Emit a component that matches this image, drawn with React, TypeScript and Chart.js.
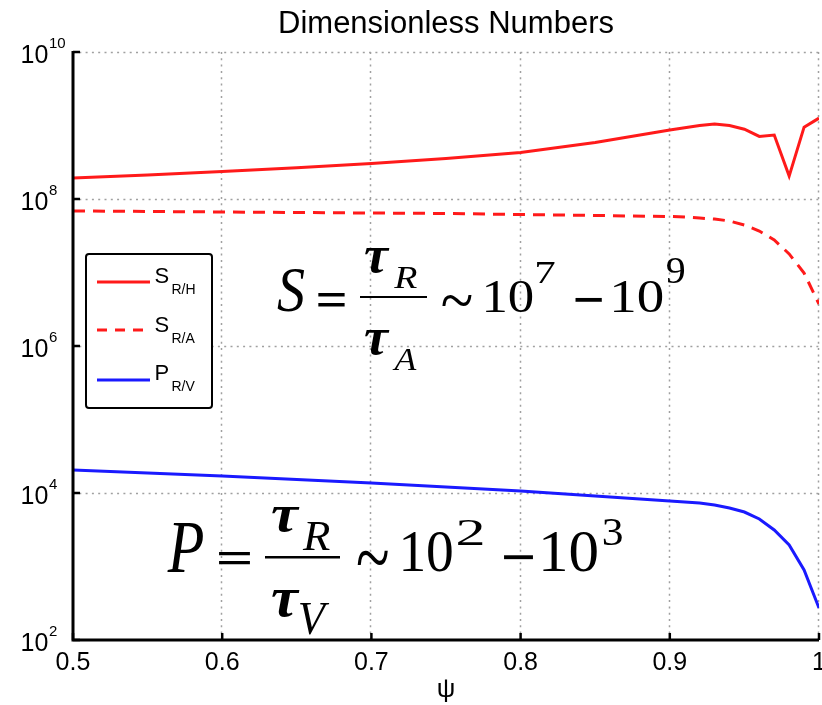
import React, { useEffect, useRef } from "react";
import { Chart, registerables } from "chart.js";

Chart.register(...registerables);

// ---- data ----
const psi = [0.5, 0.55, 0.6, 0.65, 0.7, 0.75, 0.8, 0.85, 0.9, 0.91, 0.92, 0.93, 0.94, 0.95, 0.96, 0.97, 0.98, 0.99, 1.0];
const sRH = [1.93e8, 2.12e8, 2.37e8, 2.67e8, 3.04e8, 3.56e8, 4.3e8, 5.87e8, 8.7e8, 9.3e8, 1.0e9, 1.05e9, 1.0e9, 8.9e8, 7.1e8, 7.4e8, 2.05e8, 9.5e8, 1.26e9];
const sRA = [6.87e7, 6.77e7, 6.66e7, 6.55e7, 6.45e7, 6.35e7, 6.15e7, 5.97e7, 5.78e7, 5.69e7, 5.51e7, 5.34e7, 5.02e7, 4.43e7, 3.67e7, 2.77e7, 1.79e7, 9.85e6, 3.72e6];
const pRV = [20560, 18700, 17030, 15270, 13680, 12070, 10650, 9100, 7780, 7550, 7310, 6870, 6250, 5510, 4430, 3140, 1960, 896, 272];
const xTicks = [0.5, 0.6, 0.7, 0.8, 0.9, 1];
const yTicks = [1e2, 1e4, 1e6, 1e8, 1e10];
const seriesNames = ["S_R/H", "S_R/A", "P_R/V"];
const legendMain = ["S", "S", "P"];
const legendSub = ["R/H", "R/A", "R/V"];
const titleText = "Dimensionless Numbers";
const xLabel = "ψ";

const SANS = "'Liberation Sans', Arial, sans-serif";
const SERIF = "'Liberation Serif', 'Times New Roman', serif";

function fitText(ctx: CanvasRenderingContext2D, text: string, font: string, l: number, r: number, t: number, b: number) {
  ctx.save();
  ctx.font = font;
  ctx.textAlign = "left";
  ctx.textBaseline = "alphabetic";
  const m = ctx.measureText(text);
  const w = m.actualBoundingBoxLeft + m.actualBoundingBoxRight;
  const h = m.actualBoundingBoxAscent + m.actualBoundingBoxDescent;
  ctx.translate(l, t);
  ctx.scale((r - l) / w, (b - t) / h);
  ctx.fillStyle = "#000";
  ctx.fillText(text, m.actualBoundingBoxLeft, m.actualBoundingBoxAscent);
  ctx.restore();
}

const decorPlugin = {
  id: "decor",
  beforeDatasetsDraw(chart: any) {
    const { ctx, chartArea: a, scales } = chart;
    ctx.save();
    ctx.strokeStyle = "#a0a0a0";
    ctx.lineWidth = 1.5;
    ctx.setLineDash([2, 4.3]);
    for (const v of xTicks) {
      if (v === xTicks[0]) continue;
      const x = Math.round(scales.x.getPixelForValue(v)) - 0.5;
      ctx.beginPath();
      ctx.moveTo(x, a.top);
      ctx.lineTo(x, a.bottom);
      ctx.stroke();
    }
    for (const v of yTicks) {
      if (v === yTicks[0]) continue;
      const y = Math.round(scales.y.getPixelForValue(v)) + 0.5;
      ctx.beginPath();
      ctx.moveTo(a.left, y);
      ctx.lineTo(a.right, y);
      ctx.stroke();
    }
    ctx.restore();
  },
  afterDatasetsDraw(chart: any) {
    const { ctx, chartArea: a, scales } = chart;
    ctx.save();
    ctx.setLineDash([]);
    // axes
    ctx.strokeStyle = "#000";
    ctx.lineWidth = 3;
    ctx.beginPath();
    ctx.moveTo(a.left, a.top - 1);
    ctx.lineTo(a.left, a.bottom);
    ctx.lineTo(a.right, a.bottom);
    ctx.stroke();
    // inward ticks
    ctx.lineWidth = 2.5;
    for (const v of xTicks) {
      const x = scales.x.getPixelForValue(v);
      ctx.beginPath();
      ctx.moveTo(x, a.bottom);
      ctx.lineTo(x, a.bottom - 7);
      ctx.stroke();
    }
    for (const v of yTicks) {
      const y = scales.y.getPixelForValue(v);
      ctx.beginPath();
      ctx.moveTo(a.left, y);
      ctx.lineTo(a.left + 7, y);
      ctx.stroke();
    }
    // y tick labels with superscripts
    ctx.fillStyle = "#000";
    ctx.textAlign = "left";
    ctx.textBaseline = "alphabetic";
    for (const v of yTicks) {
      const y = scales.y.getPixelForValue(v);
      const e = Math.round(Math.log10(v));
      ctx.font = `25px ${SANS}`;
      ctx.fillText("10", 20.5, y + 10.5);
      ctx.font = `15px ${SANS}`;
      ctx.fillText(String(e), 49, y - 4);
    }
    // title
    ctx.font = `31px ${SANS}`;
    ctx.textAlign = "center";
    ctx.fillText(titleText, (a.left + a.right) / 2, 33);
    // x label
    ctx.font = `26px ${SANS}`;
    ctx.fillText(xLabel, (a.left + a.right) / 2, 697);

    // legend
    ctx.lineWidth = 2;
    ctx.strokeStyle = "#000";
    ctx.beginPath();
    (ctx as any).roundRect ? (ctx as any).roundRect(86, 254, 126, 154, 3) : ctx.rect(86, 254, 126, 154);
    ctx.fillStyle = "#fff";
    ctx.fill();
    ctx.stroke();
    const rowsLine = [282, 330, 380];
    const rowsBase = [283, 332, 380];
    chart.data.datasets.forEach((ds: any, i: number) => {
      ctx.save();
      ctx.strokeStyle = ds.borderColor;
      ctx.lineWidth = 3;
      ctx.setLineDash(ds.borderDash && ds.borderDash.length ? [10, 8] : []);
      ctx.beginPath();
      ctx.moveTo(97, rowsLine[i]);
      ctx.lineTo(150, rowsLine[i]);
      ctx.stroke();
      ctx.restore();
      ctx.fillStyle = "#000";
      ctx.textAlign = "left";
      ctx.font = `22px ${SANS}`;
      ctx.fillText(legendMain[i], 154.5, rowsBase[i]);
      ctx.font = `14px ${SANS}`;
      ctx.fillText(legendSub[i], 171.5, rowsBase[i] + 11);
    });

    // formula S
    const it = (s: number) => `italic ${s}px ${SERIF}`;
    const bi = (s: number) => `bold italic ${s}px ${SERIF}`;
    const rg = (s: number) => `${s}px ${SERIF}`;
    const bd = (s: number) => `bold ${s}px ${SERIF}`;
    fitText(ctx, "S", it(60), 277, 305, 270, 312);
    fitText(ctx, "=", bd(44), 318, 345, 293, 307);
    ctx.fillStyle = "#000";
    ctx.fillRect(360, 296, 67, 2);
    fitText(ctx, "τ", bi(54), 365, 390, 248, 273);
    fitText(ctx, "R", it(30), 393, 417, 268, 288);
    fitText(ctx, "τ", bi(54), 365, 390, 330, 355);
    fitText(ctx, "A", it(30), 392, 417, 350, 370);
    fitText(ctx, "~", rg(44), 442, 472, 293, 305);
    fitText(ctx, "10", rg(44), 485, 533, 282, 312);
    fitText(ctx, "7", rg(31), 537, 555, 262, 283);
    fitText(ctx, "−", bd(44), 575, 602, 297, 302);
    fitText(ctx, "10", rg(44), 613, 663, 282, 312);
    fitText(ctx, "9", rg(31), 667, 685, 258, 283);

    // formula P
    fitText(ctx, "P", it(70), 167, 203, 523, 572);
    fitText(ctx, "=", bd(56), 218, 250, 552, 565);
    ctx.fillStyle = "#000";
    ctx.fillRect(265, 556, 75, 2.5);
    fitText(ctx, "τ", bi(54), 272, 300, 507, 532);
    fitText(ctx, "R", it(40), 302, 330, 523, 550);
    fitText(ctx, "τ", bi(54), 272, 300, 590, 617);
    fitText(ctx, "V", it(40), 300, 330, 603, 635);
    fitText(ctx, "~", rg(56), 357, 388, 550, 565);
    fitText(ctx, "10", rg(60), 403, 452, 532, 572);
    fitText(ctx, "2", rg(37), 457, 483, 520, 545);
    fitText(ctx, "−", bd(56), 503, 533, 555, 560);
    fitText(ctx, "10", rg(60), 543, 597, 532, 572);
    fitText(ctx, "3", rg(37), 603, 623, 518, 545);
    ctx.restore();
  },
};

export default function App() {
  const ref = useRef<HTMLCanvasElement | null>(null);
  useEffect(() => {
    document.body.style.margin = "0";
    const canvas = ref.current;
    if (!canvas) return;
    const mk = (vals: number[]) => psi.map((x, i) => ({ x, y: vals[i] }));
    const chart = new Chart(canvas, {
      type: "line",
      data: {
        datasets: [
          { label: seriesNames[0], data: mk(sRH), borderColor: "#ff1a1a", borderWidth: 3, pointRadius: 0, tension: 0, fill: false },
          { label: seriesNames[1], data: mk(sRA), borderColor: "#ff1a1a", borderWidth: 3, borderDash: [12, 8], pointRadius: 0, tension: 0, fill: false },
          { label: seriesNames[2], data: mk(pRV), borderColor: "#1a1aff", borderWidth: 3, pointRadius: 0, tension: 0, fill: false },
        ],
      },
      options: {
        animation: false,
        responsive: false,
        devicePixelRatio: 1,
        layout: { autoPadding: false, padding: { top: 52, right: 3, left: 0, bottom: 0 } },
        plugins: { legend: { display: false }, title: { display: false }, tooltip: { enabled: false } },
        scales: {
          x: {
            type: "linear",
            min: 0.5,
            max: 1,
            afterBuildTicks: (s: any) => {
              s.ticks = xTicks.map((v) => ({ value: v }));
            },
            ticks: {
              font: { family: "'Liberation Sans', Arial, sans-serif", size: 25 },
              color: "#000",
              padding: 8,
              maxRotation: 0,
              autoSkip: false,
              callback: (v: any) => String(Math.round(Number(v) * 10) / 10),
            },
            grid: { display: false, drawTicks: false },
            border: { display: false },
            afterFit: (s: any) => {
              s.height = 65;
              s.paddingLeft = 0;
              s.paddingRight = 0;
            },
          },
          y: {
            type: "logarithmic",
            min: 1e2,
            max: 1e10,
            afterBuildTicks: (s: any) => {
              s.ticks = yTicks.map((v) => ({ value: v }));
            },
            ticks: { display: false },
            grid: { display: false, drawTicks: false },
            border: { display: false },
            afterFit: (s: any) => {
              s.width = 73;
              s.paddingTop = 0;
              s.paddingBottom = 0;
            },
          },
        },
      },
      plugins: [decorPlugin],
    } as any);
    return () => chart.destroy();
  }, []);
  return (
    <div style={{ width: 822, height: 705, background: "#fff" }}>
      <canvas ref={ref} width={822} height={705} style={{ display: "block", width: 822, height: 705 }} />
    </div>
  );
}
